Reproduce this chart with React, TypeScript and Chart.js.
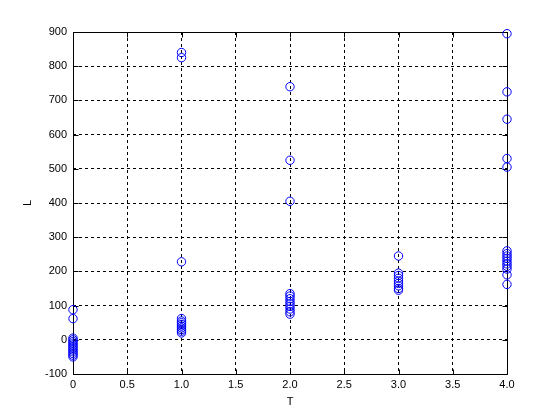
import React, { useEffect, useRef } from "react";
import { Chart, registerables } from "chart.js";

Chart.register(...registerables);

const T_VALUES = [0, 1, 2, 3, 4];
const L_AT_T0 = [88, 62, 5, 0, -5, -10, -15, -20, -25, -30, -35, -40, -45, -50];
const L_AT_T1 = [840, 825, 228, 62, 55, 50, 45, 40, 35, 30, 25, 20];
const L_AT_T2 = [740, 525, 405, 135, 128, 120, 112, 105, 98, 90, 82, 75];
const L_AT_T3 = [245, 195, 188, 180, 172, 165, 158, 150, 145];
const L_AT_T4 = [895, 725, 645, 530, 505, 260, 252, 245, 238, 230, 222, 215, 207, 190, 162];
const L_GROUPS = [L_AT_T0, L_AT_T1, L_AT_T2, L_AT_T3, L_AT_T4];

const X_MIN = 0, X_MAX = 4, X_STEP = 0.5;
const Y_MIN = -100, Y_MAX = 900, Y_STEP = 100;

const FONT = { family: "'Liberation Sans', Arial, sans-serif", size: 11 };

const boxPlugin = {
  id: "matlabBox",
  beforeDatasetsDraw(chart: any) {
    const { ctx, chartArea, scales } = chart;
    const { left, right, top, bottom } = chartArea;
    ctx.save();
    ctx.strokeStyle = "#000";
    ctx.lineWidth = 1;
    ctx.setLineDash([]);
    const L = Math.round(left) + 0.5, R = Math.round(right) + 0.5;
    const Tp = Math.round(top) + 0.5, B = Math.round(bottom) + 0.5;
    ctx.beginPath();
    ctx.rect(L, Tp, R - L, B - Tp);
    ctx.stroke();
    const tl = 5;
    ctx.beginPath();
    scales.x.ticks.forEach((t: any) => {
      const px = Math.round(scales.x.getPixelForValue(t.value)) + 0.5;
      ctx.moveTo(px, B); ctx.lineTo(px, B - tl);
      ctx.moveTo(px, Tp); ctx.lineTo(px, Tp + tl);
    });
    scales.y.ticks.forEach((t: any) => {
      const py = Math.round(scales.y.getPixelForValue(t.value)) + 0.5;
      ctx.moveTo(L, py); ctx.lineTo(L + tl, py);
      ctx.moveTo(R, py); ctx.lineTo(R - tl, py);
    });
    ctx.stroke();
    ctx.restore();
  },
};

export default function App() {
  const ref = useRef<HTMLCanvasElement | null>(null);
  useEffect(() => {
    if (!ref.current) return;
    const points: { x: number; y: number }[] = [];
    T_VALUES.forEach((t, i) => L_GROUPS[i].forEach((l) => points.push({ x: t, y: l })));
    const chart = new Chart(ref.current, {
      type: "scatter",
      data: {
        datasets: [
          {
            data: points,
            pointStyle: "circle",
            pointRadius: 4.2,
            pointBorderWidth: 1,
            pointBorderColor: "#0000ff",
            pointBackgroundColor: "rgba(0,0,0,0)",
            clip: false as any,
          },
        ],
      },
      options: {
        animation: false,
        responsive: false,
        devicePixelRatio: 1,
        layout: { padding: { top: 32, right: 53, left: 0, bottom: 0 } },
        plugins: { legend: { display: false }, tooltip: { enabled: false } },
        scales: {
          x: {
            type: "linear",
            min: X_MIN,
            max: X_MAX,
            afterFit: (s: any) => { s.height = 46; },
            ticks: { stepSize: X_STEP, color: "#000", font: FONT, padding: 4, maxRotation: 0 },
            grid: { color: "#000", lineWidth: 1, drawTicks: false },
            border: { display: false, dash: [3, 3] },
            title: { display: true, text: "T", color: "#000", font: FONT, padding: { top: 0, bottom: 11 } },
          },
          y: {
            type: "linear",
            min: Y_MIN,
            max: Y_MAX,
            afterFit: (s: any) => { s.width = 73; },
            ticks: { stepSize: Y_STEP, color: "#000", font: FONT, padding: 6 },
            grid: { color: "#000", lineWidth: 1, drawTicks: false },
            border: { display: false, dash: [3, 3] },
            title: { display: true, text: "L", color: "#000", font: FONT, padding: { top: 21, bottom: 0 } },
          },
        },
      },
      plugins: [boxPlugin],
    });
    return () => chart.destroy();
  }, []);
  return (
    <div style={{ position: "absolute", left: 0, top: 0, width: 560, height: 420, background: "#fff" }}>
      <canvas ref={ref} width={560} height={420} />
    </div>
  );
}
